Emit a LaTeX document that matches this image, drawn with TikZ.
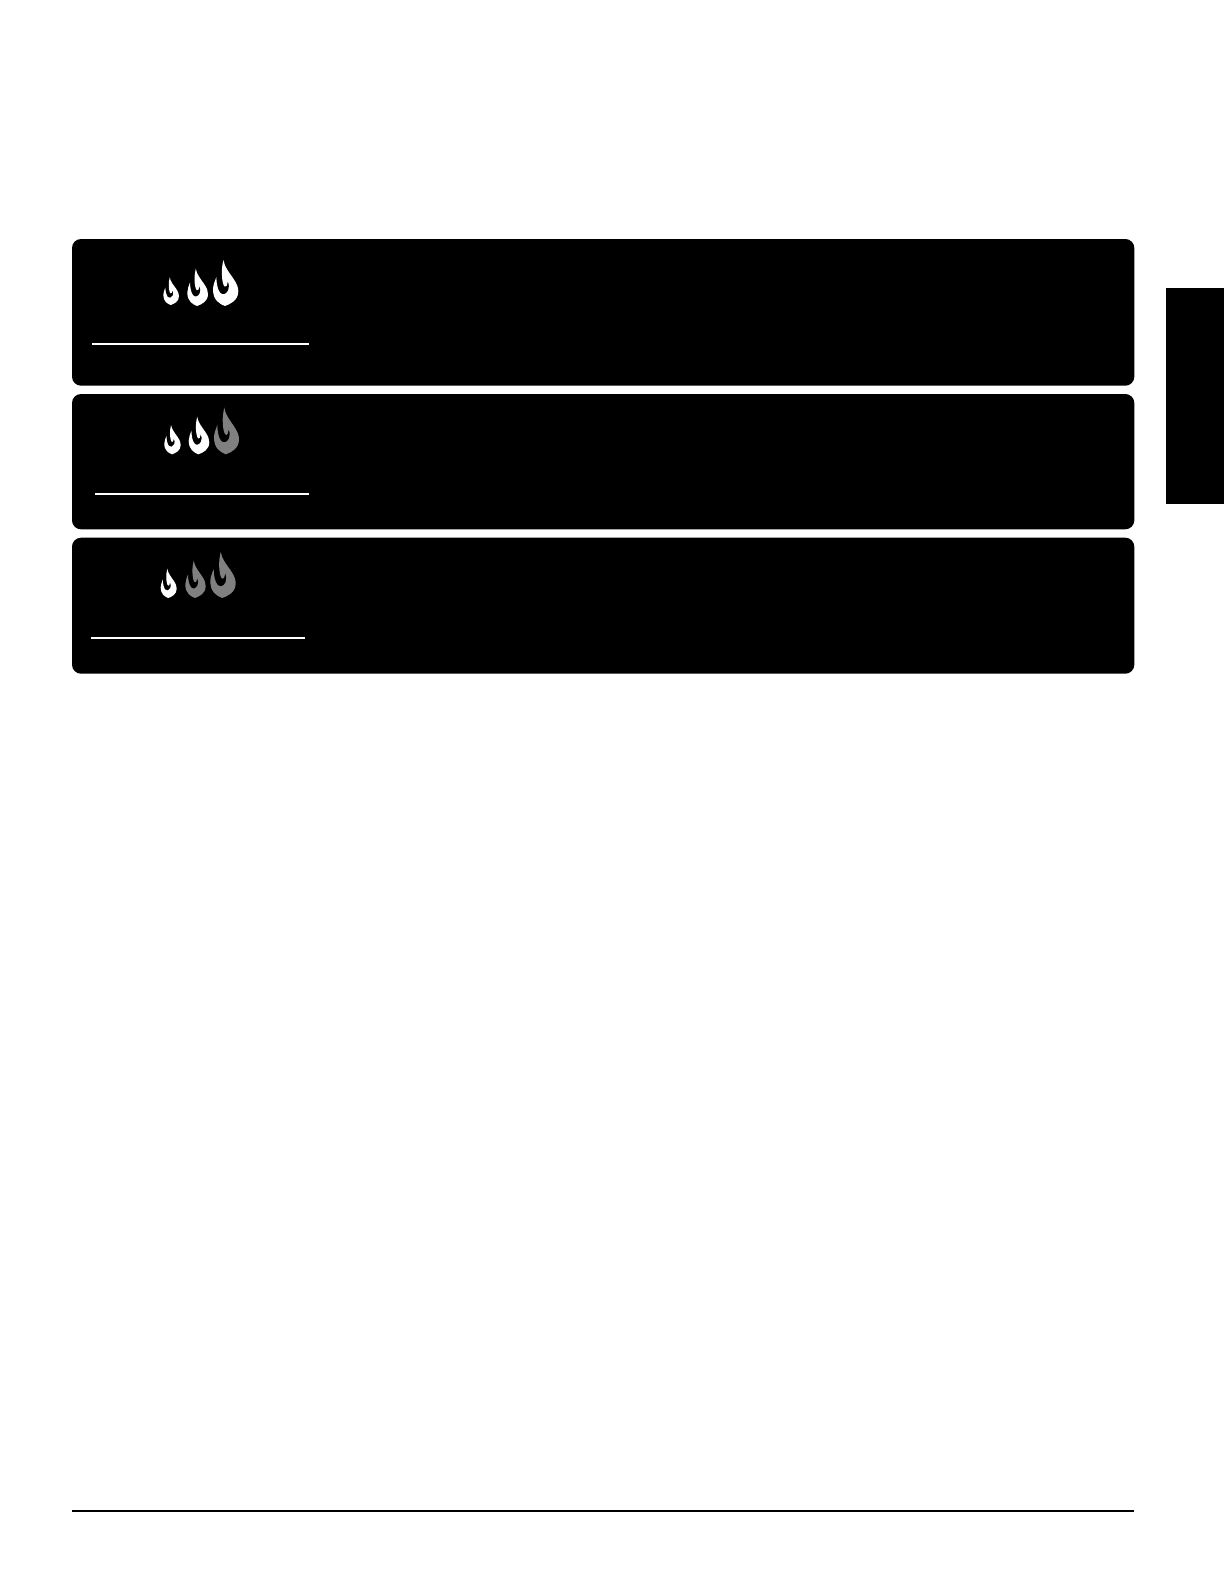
\documentclass[tikz,border=0pt]{standalone}
\newcommand{\flameshape}[5]{%
  \fill[#5,shift={(#1,#2)},xscale=#3,yscale=#4]
    (0.41,0) .. controls (0.46,0.16) and (0.64,0.27) .. (0.8,0.40)
    .. controls (0.95,0.52) and (1.0,0.60) .. (1,0.68)
    .. controls (1,0.88) and (0.68,0.96) .. (0.47,1)
    .. controls (0.28,0.96) and (0,0.88) .. (0,0.64)
    .. controls (0,0.54) and (0.08,0.46) .. (0.13,0.37)
    .. controls (0.14,0.52) and (0.18,0.64) .. (0.28,0.71)
    .. controls (0.38,0.77) and (0.52,0.75) .. (0.6,0.66)
    .. controls (0.65,0.60) and (0.64,0.53) .. (0.58,0.46)
    .. controls (0.57,0.54) and (0.53,0.60) .. (0.47,0.58)
    .. controls (0.40,0.56) and (0.36,0.44) .. (0.35,0.32)
    .. controls (0.34,0.2) and (0.37,0.1) .. (0.41,0) -- cycle;%
}
\tikzset{
  panelbox/.style={fill=black,rounded corners=4.5pt},
  whiterule/.style={draw=white,line width=1.1pt},
  lit/.style={fill=white},
  dim/.style={fill=flamegrey}
}
\definecolor{flamegrey}{HTML}{808080}
\begin{document}
\begin{tikzpicture}[x=0.5pt,y=-0.5pt]
\useasboundingbox[fill=white] (0,0) rectangle (1224,1584);
% panels
\path[panelbox] (72,239) rectangle (1134.3,385.7);
\path[panelbox] (72,394) rectangle (1134.3,529.3);
\path[panelbox] (72,537.7) rectangle (1134.3,673.7);
% side tab
\fill[black] (1166,288) rectangle (1224,504);
% rules
\draw[whiterule] (92,343.7) -- (309,343.7);
\draw[whiterule] (95,493.7) -- (309,493.7);
\draw[whiterule] (91,638) -- (305,638);
\draw[black,line width=1.1pt] (72,1510.7) -- (1134.3,1510.7);
% flames, panel 1
\flameshape{163.3}{277.3}{15.7}{27.7}{lit}
\flameshape{187.3}{268.7}{20.7}{37.3}{lit}
\flameshape{213}{260}{25.3}{46}{lit}
% flames, panel 2
\flameshape{164.3}{425}{16.4}{29.3}{lit}
\flameshape{188.7}{416.7}{20.6}{37.6}{lit}
\flameshape{214}{407.7}{25}{46.6}{dim}
% flames, panel 3
\flameshape{160.7}{568.7}{16}{29.3}{lit}
\flameshape{185.3}{560.7}{20.4}{37.3}{dim}
\flameshape{210.3}{552}{25.4}{46}{dim}
\end{tikzpicture}
\end{document}
